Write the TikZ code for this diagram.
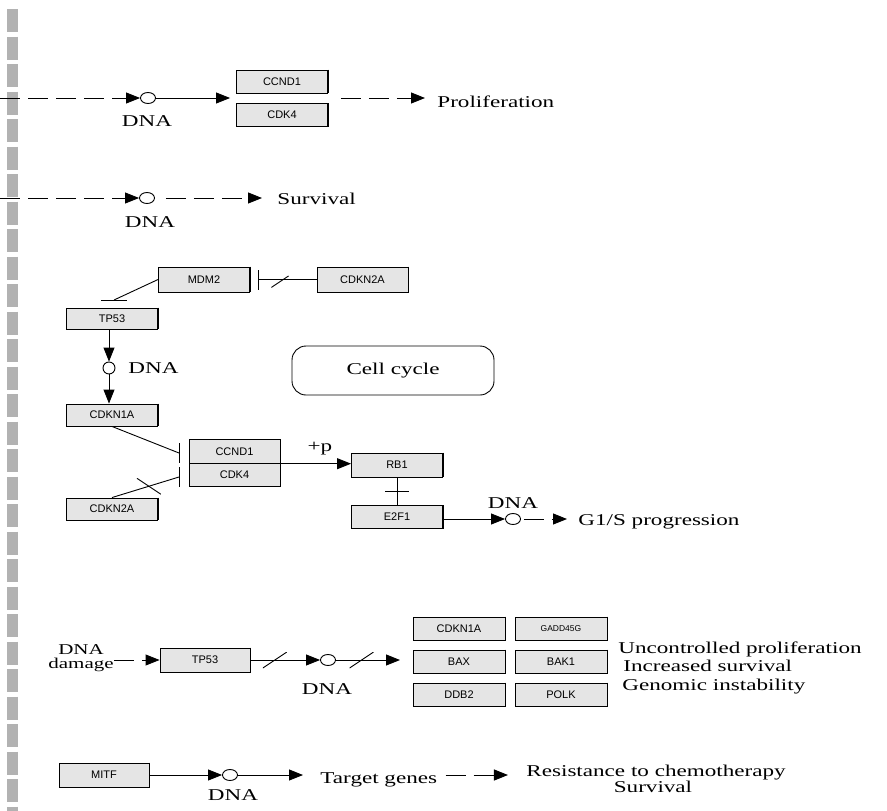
\documentclass[tikz,border=0pt]{standalone}
\usepackage{fontspec}
\setmainfont{Liberation Serif}[FakeStretch=1.4]
\setsansfont{Liberation Sans}
\usetikzlibrary{arrows.meta,shapes.geometric}

\tikzset{
  gene/.style={draw, fill=black!10, minimum width=91pt, minimum height=23pt, inner sep=0pt,
    font=\sffamily\fontsize{11}{12}\selectfont,
    append after command={(\tikzlastnode.north east) edge[line width=1.8pt] (\tikzlastnode.south east)}},
  dna/.style={draw, ellipse, minimum width=15pt, minimum height=11pt, inner sep=0pt},
  lbl/.style={font=\fontsize{16.5}{18}\selectfont, inner sep=0pt},
  act/.style={-{Triangle[length=14pt,width=11pt]}},
  inh/.style={-{Bar[width=20pt]}},
  indirect/.style={dash pattern=on 20pt off 8pt},
  cutR/.style={inner sep=0pt, minimum width=24pt, minimum height=16pt,
    path picture={\draw[-, solid] (path picture bounding box.south west) -- (path picture bounding box.north east);}},
  cutL/.style={inner sep=0pt, minimum width=24pt, minimum height=16pt,
    path picture={\draw[-, solid] (path picture bounding box.north west) -- (path picture bounding box.south east);}}
}

\begin{document}
\begin{tikzpicture}[x=1pt, y=-1pt, line width=0.9pt]
\useasboundingbox (0,0) rectangle (887,811);
% Border on the left
\draw[line width=11pt, black!30, dash pattern=on 23pt off 4.5pt] (12.5,9) -- (12.5,811);

% Proliferation
\node[gene] (ccndA) at (282,81.5) {CCND1};
\node[gene] (cdkA) at (282,115) {CDK4};
\node[dna] (dnaA) at (148,98) {};
\node[lbl] (dnaAlbl) at (147,121) {DNA};
\node[lbl, anchor=base west] (prolif) at (437,107) {Proliferation};
\coordinate (inA) at (0,98);
\draw[indirect, act] (inA) -- (dnaA);
\draw[act, shorten >=6pt] (dnaA) -- (ccndA.south west |- dnaA);
\draw[indirect, act, shorten <=13pt, shorten >=12pt] (cdkA.north east |- dnaA) -- (prolif.west |- dnaA);

% Survival
\node[dna] (dnaB) at (147,198) {};
\node[lbl] (dnaBlbl) at (150,222) {DNA};
\node[lbl, anchor=base west] (surv) at (277,204) {Survival};
\coordinate (inB) at (0,198);
\draw[indirect, act] (inB) -- (dnaB);
\draw[indirect, act, shorten <=11pt, shorten >=15pt] (dnaB) -- (surv.west |- dnaB);

% p53 loop
\node[gene, minimum height=25pt] (mdm2) at (204,279.5) {MDM2};
\node[gene, minimum height=25pt] (cdkn2aA) at (362.5,279.5) {CDKN2A};
\draw[inh, shorten >=8pt] (cdkn2aA) -- node[cutR] {} (mdm2);
\node[gene, minimum height=21pt] (tp53A) at (112,318.5) {TP53};
\coordinate (tpbar) at (114,300);
\draw (mdm2.west) -- (tpbar);
\draw (tpbar) ++(-13,0) -- ++(26,0);
\node[dna, minimum width=12pt, minimum height=12pt] (dnaC) at (109,368) {};
\node[lbl, anchor=west] (dnaClbl) at (128,368) {DNA};
\node[gene, minimum height=22pt] (cdkn1aA) at (112,415) {CDKN1A};
\draw[act] (tp53A.south -| dnaC) -- (dnaC);
\draw[act] (dnaC) -- (dnaC |- cdkn1aA.north);

\node[draw, lbl, rounded corners=14pt, minimum width=202pt, minimum height=49pt] (cycle) at (393,370.5) {Cell cycle};

% Cell cycle
\node[gene, minimum height=23.5pt] (ccndB) at (234.5,451.5) {CCND1};
\node[gene, minimum height=23.5pt] (cdkB) at (234.5,475) {CDK4};
\coordinate (barA) at (179,453);
\coordinate (barB) at (179,477);
\draw (cdkn1aA.south) -- (barA);
\draw (barA) ++(0,-10) -- ++(0,20);
\node[gene, minimum height=22pt] (cdkn2aB) at (112,509) {CDKN2A};
\draw (cdkn2aB.north) -- node[cutL, pos=0.55] {} (barB);
\draw (barB) ++(0,-10) -- ++(0,20);

\node[gene, minimum height=24pt] (rb1) at (397,465) {RB1};
\node[gene] (e2f1) at (397,517) {E2F1};
\draw[act] (ccndB.south east) -- (ccndB.south east -| rb1.west);
\node[lbl] (plus) at (320,449) {+p};
\draw (rb1) -- (e2f1);
\coordinate (barC) at (397,491);
\draw (barC) ++(-12,0) -- ++(24,0);

\node[dna] (dnaD) at (513,519) {};
\node[lbl] (dnaDlbl) at (513,503) {DNA};
\node[lbl, anchor=base west] (g1s) at (578,525) {G1/S progression};
\draw[act] (e2f1.east |- dnaD) -- (dnaD);
\draw[indirect, act, shorten <=3pt, shorten >=11pt] (dnaD) -- (g1s.west |- dnaD);

% DNA damage
\node[lbl, align=center, font=\fontsize{15}{14.5}\selectfont] (damage) at (81,658) {DNA\\damage};
\node[gene, minimum width=90pt, minimum height=24pt] (tp53B) at (205,660) {TP53};
\draw[indirect, act] (damage.east |- tp53B) -- (tp53B.west);
\node[dna] (dnaE) at (328,660) {};
\node[lbl] (dnaElbl) at (327,689) {DNA};
\draw[act] (tp53B.east) -- node[cutR, pos=0.35] {} (dnaE);
\coordinate (geneIn) at (400,660);
\draw[act] (dnaE) -- node[cutR, pos=0.4] {} (geneIn);

\node[gene, minimum width=92pt] (cdkn1aB) at (459,628.5) {CDKN1A};
\node[gene, minimum width=92pt, font=\sffamily\fontsize{8.5}{10}\selectfont] (gadd) at (561,628.5) {GADD45G};
\node[gene, minimum width=92pt] (bax) at (459,661.5) {BAX};
\node[gene, minimum width=92pt] (bak1) at (561,661.5) {BAK1};
\node[gene, minimum width=92pt] (ddb2) at (459,694.5) {DDB2};
\node[gene, minimum width=92pt] (polk) at (561,694.5) {POLK};
\node[lbl, anchor=base west] (uncon) at (618,653) {Uncontrolled proliferation};
\node[lbl, anchor=base west] (incr) at (623,671) {Increased survival};
\node[lbl, anchor=base west] (genom) at (622,690) {Genomic instability};

% MITF
\node[gene, minimum width=90pt, minimum height=24pt] (mitf) at (104,775) {MITF};
\node[dna] (dnaF) at (230,775) {};
\node[lbl] (dnaFlbl) at (233,795) {DNA};
\node[lbl, anchor=base west] (target) at (320,783) {Target genes};
\node[lbl, anchor=base] (resist) at (656,776) {Resistance to chemotherapy};
\node[lbl, anchor=base] (surv2) at (653,792) {Survival};
\draw[act] (mitf) -- (dnaF);
\draw[act, shorten >=17pt] (dnaF) -- (target.west |- dnaF);
\draw[indirect, act, shorten <=8pt, shorten >=18pt] (target.east |- dnaF) -- (resist.west |- dnaF);
\end{tikzpicture}
\end{document}
